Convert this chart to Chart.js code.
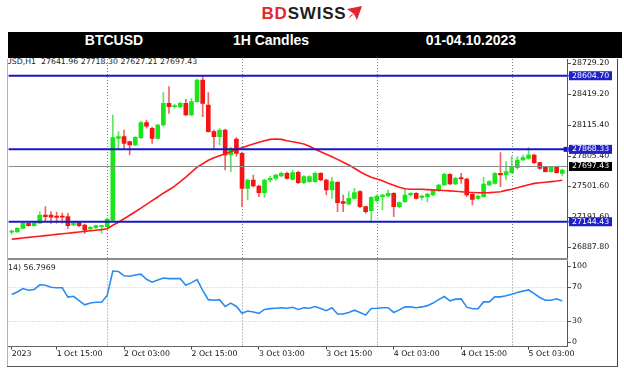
<!DOCTYPE html>
<html>
<head>
<meta charset="utf-8">
<script src="https://cdn.jsdelivr.net/npm/chart.js@4.4.1/dist/chart.umd.min.js"></script>
<style>
  html, body { margin: 0; padding: 0; background: #fff; }
  body { width: 624px; height: 371px; position: relative; overflow: hidden; font-family: "DejaVu Sans", sans-serif; }
  .abs { position: absolute; }
  #logo { left: 0; top: 4px; width: 624px; height: 20px; display: flex; justify-content: center; align-items: flex-start; }
  #logo span { font: bold 17px "Liberation Sans", Arial, sans-serif; letter-spacing: 0.8px; line-height: 19px; }
  #bar { left: 8px; top: 32px; width: 614px; height: 26px; background: #000; z-index: 5; }
  .ht { position: absolute; top: 0; line-height: 27px; color: #fff; font: bold 14px "Liberation Sans", Arial, sans-serif; transform: translateX(-50%); white-space: nowrap; }
  .clip { overflow: hidden; white-space: nowrap; font-size: 7.8px; color: #222; }
  canvas { position: absolute; left: 0; }
</style>
</head>
<body>
<div id="logo" class="abs"><span><span style="color:#e3262d">BD</span><span style="color:#1d1d1b">SWISS</span></span>
  <svg width="16" height="15" viewBox="0 0 16 15" style="margin-top:2px"><polygon points="1,3 16,0 11,14 8,8" fill="#e3262d"/><polygon points="8,8 2,13 5,9" fill="#e3262d"/></svg></div>
<div id="bar" class="abs">
  <div class="ht" style="left:106px">BTCUSD</div>
  <div class="ht" style="left:263px">1H Candles</div>
  <div class="ht" style="left:463px">01-04.10.2023</div>
</div>
<div class="abs clip" style="left:8px;top:57px;width:300px;line-height:10px"><span style="margin-left:-17px">BTCUSD,H1&nbsp;&nbsp;27641.96 27718.30 27627.21 27697.43</span></div>
<canvas id="main" width="624" height="200" style="top:59px"></canvas>
<canvas id="rsi" width="624" height="112" style="top:259px"></canvas>
<div class="abs clip" style="left:8px;top:263px;width:120px;line-height:10px"><span style="margin-left:-15.7px">RSI(14) 56.7969</span></div>
<div class="abs" style="left:8px;top:257.5px;width:560px;height:2.5px;background:#8c8c8c"></div>
<div class="abs" style="left:7px;top:59px;width:1px;height:308px;background:#b4b4b4"></div>
<div class="abs" style="left:7px;top:366px;width:611px;height:1px;background:#555"></div>
<div class="abs" style="left:617px;top:59px;width:1px;height:308px;background:#444"></div>
<script>
// hourly bars, 1 Oct 07:00 .. 5 Oct 09:00 (bar index)
const opens = [27040,27045,27079,27129,27105,27130,27212,27210,27202,27200,
  27195,27112,27139,27112,27072,27085,27095,27095,27160,27979,
  27995,27945,27912,27985,28135,28079,27979,28112,28329,28295,
  28295,28329,28212,28345,28562,28312,28045,27995,28062,27812,
  27972,27829,27479,27562,27502,27435,27562,27579,27602,27629,
  27569,27639,27535,27545,27545,27629,27562,27462,27539,27345,
  27322,27379,27445,27295,27255,27355,27395,27402,27429,27295,
  27345,27412,27429,27389,27395,27412,27455,27512,27619,27522,
  27585,27572,27419,27379,27395,27512,27529,27629,27612,27635,
  27685,27762,27779,27812,27735,27689,27645,27689,27629];
const highs = [27060,27085,27135,27135,27145,27245,27295,27245,27240,27230,
  27229,27145,27145,27120,27095,27112,27112,27180,28212,28045,
  28062,27950,27995,28150,28160,28090,28120,28435,28495,28320,
  28340,28369,28379,28570,28605,28435,28060,28075,28070,27890,
  27985,27840,27570,27610,27510,27570,27600,27620,27640,27640,
  27662,27650,27605,27605,27640,27635,27570,27589,27545,27412,
  27445,27479,27455,27300,27395,27410,27420,27462,27435,27340,
  27479,27435,27435,27410,27430,27465,27520,27630,27625,27590,
  27629,27580,27425,27410,27589,27555,27635,27835,27745,27795,
  27795,27812,27885,27820,27740,27695,27695,27695,27670];
const lows = [27020,27035,27075,27100,27100,27125,27145,27129,27130,27130,
  27079,27105,27095,27029,27060,27075,27029,27090,27150,27879,
  27879,27812,27905,27975,28080,27929,27970,28100,28229,28280,
  28285,28205,28205,28340,28195,28040,27879,27912,27662,27645,
  27800,27295,27362,27490,27395,27389,27540,27560,27590,27570,
  27560,27525,27525,27540,27540,27555,27412,27379,27245,27245,
  27312,27370,27285,27230,27135,27340,27262,27395,27195,27285,
  27335,27400,27370,27360,27345,27405,27445,27505,27515,27515,
  27529,27395,27312,27369,27390,27505,27520,27495,27562,27630,
  27670,27755,27770,27725,27670,27640,27640,27630,27602];
const closes = [27050,27079,27129,27105,27135,27212,27195,27190,27189,27190,
  27105,27139,27105,27062,27089,27105,27105,27172,27985,27995,
  27929,27912,27989,28135,28100,27979,28112,28329,28295,28302,
  28329,28212,28345,28562,28329,28045,27995,28062,27812,27879,
  27829,27479,27562,27502,27435,27562,27579,27612,27629,27579,
  27635,27535,27595,27595,27629,27562,27462,27545,27335,27329,
  27379,27435,27295,27245,27389,27402,27412,27429,27295,27335,
  27412,27429,27379,27402,27422,27455,27512,27619,27522,27579,
  27572,27412,27369,27402,27522,27545,27629,27612,27645,27689,
  27762,27785,27812,27735,27679,27645,27689,27635,27660];
const maValues = [26970,26976,26982,26988,26994,27000,27006,27012,27018,27024,
  27030,27036,27042,27048,27054,27060,27066,27075,27110,27140,
  27175,27210,27245,27280,27318,27355,27392,27430,27465,27500,
  27545,27590,27640,27690,27725,27760,27785,27805,27825,27845,
  27870,27885,27905,27922,27940,27955,27968,27972,27968,27955,
  27945,27935,27922,27900,27870,27845,27820,27795,27768,27740,
  27712,27680,27645,27615,27590,27572,27555,27530,27510,27490,
  27475,27470,27469,27469,27466,27463,27460,27457,27453,27449,
  27445,27440,27437,27435,27435,27436,27440,27445,27458,27470,
  27485,27500,27515,27528,27535,27540,27546,27552,27560];
const rsiValues = [61,64,68,66,67,72.5,72,69.5,69,69,
  58,59,54,49,51,52,52,60,88.6,88,
  83,82.5,84,85,79,75.5,78,80.5,79.7,79.7,
  79.7,72,75,78.5,66,55,54.4,55,47,51,
  47,39,41.6,40.5,39,43.5,44.5,45,45.5,45,
  46,43.5,45.5,45,47,44.5,42,45.5,38.1,38.1,
  40,42.7,40,37,44.7,45,45.5,45.5,40,43,
  46.7,46.5,45.5,46.5,48,51,55,58.7,53.6,55.6,
  55.9,46.2,44.3,44.3,52.4,52.4,58.3,58.3,59.5,61.4,
  63.5,65,66.4,62,57.6,54.4,54.4,56,53.5];

const levelLines = [28604.70, 27868.33, 27144.43];
const lastPrice = 27697.43;
const priceTicks = [28729.20, 28419.20, 28115.40, 27805.40, 27501.60, 27191.60, 26887.80];
const rsiTicks = [100, 70, 30, 0];
const rsiLevels = [70, 30];
const gridBars = [17, 41, 65, 89];
const tickBars = [0, 8, 20, 32, 44, 56, 68, 80, 92];
const tickLabels = ['2023', '1 Oct 15:00', '2 Oct 03:00', '2 Oct 15:00', '3 Oct 03:00',
  '3 Oct 15:00', '4 Oct 03:00', '4 Oct 15:00', '5 Oct 03:00'];

const UP = '#19e619', DOWN = '#f51414';
const UP_WICK = '#5ee65e', DOWN_WICK = '#f26262';
const FONT = '7.8px "DejaVu Sans"';

const bodies = opens.map((o, i) => ({ x: i, y: [o, closes[i]] }));
const wicks = opens.map((o, i) => ({ x: i, y: [lows[i], highs[i]] }));
const bodyColors = opens.map((o, i) => closes[i] >= o ? UP : DOWN);
const wickColors = opens.map((o, i) => closes[i] >= o ? UP_WICK : DOWN_WICK);
const maPoints = maValues.map((v, i) => ({ x: i, y: v }));
const rsiPoints = rsiValues.map((v, i) => ({ x: i, y: v }));

const xRange = { type: 'linear', min: -0.55, max: 98.95, offset: false, bounds: 'data' };

function dottedVerticals(chart) {
  const { ctx, chartArea: a, scales: { x } } = chart;
  ctx.save();
  ctx.strokeStyle = '#808080';
  ctx.lineWidth = 1;
  ctx.setLineDash([1, 2]);
  gridBars.forEach(b => {
    const px = Math.round(x.getPixelForValue(b)) + 0.5;
    ctx.beginPath(); ctx.moveTo(px, a.top); ctx.lineTo(px, a.bottom); ctx.stroke();
  });
  ctx.restore();
}

const mainDecor = {
  id: 'mainDecor',
  beforeDatasetsDraw(chart) { dottedVerticals(chart); },
  afterDatasetsDraw(chart) {
    const { ctx, chartArea: a, scales: { y } } = chart;
    ctx.save();
    const cy = Math.round(y.getPixelForValue(lastPrice)) + 0.5;
    ctx.strokeStyle = '#8c8c8c'; ctx.lineWidth = 1;
    ctx.beginPath(); ctx.moveTo(a.left, cy); ctx.lineTo(a.right, cy); ctx.stroke();
    ctx.strokeStyle = '#1717c4'; ctx.lineWidth = 2;
    levelLines.forEach(v => {
      const py = y.getPixelForValue(v);
      ctx.beginPath(); ctx.moveTo(a.left, py); ctx.lineTo(a.right + 1, py); ctx.stroke();
    });
    ctx.fillStyle = '#1717c4';
    ctx.fillRect(a.right - 4, y.getPixelForValue(levelLines[1]) - 2.5, 5, 5);
    ctx.restore();
  },
  afterDraw(chart) {
    const { ctx, chartArea: a, scales: { y } } = chart;
    const ax = 568;
    ctx.save();
    ctx.strokeStyle = '#555'; ctx.lineWidth = 1;
    ctx.beginPath(); ctx.moveTo(ax - 0.5, a.top); ctx.lineTo(ax - 0.5, a.bottom); ctx.stroke();
    ctx.font = FONT; ctx.textBaseline = 'middle'; ctx.textAlign = 'left';
    ctx.fillStyle = '#111';
    priceTicks.forEach(v => {
      const py = y.getPixelForValue(v);
      ctx.beginPath(); ctx.moveTo(ax, Math.round(py) + 0.5); ctx.lineTo(ax + 3, Math.round(py) + 0.5); ctx.stroke();
      ctx.fillText(v.toFixed(2), ax + 4, py);
    });
    const box = (v, col) => {
      const py = y.getPixelForValue(v);
      ctx.fillStyle = col;
      ctx.fillRect(ax + 1, py - 4.5, 43, 9);
      ctx.fillStyle = '#fff';
      ctx.fillText(v.toFixed(2), ax + 4, py);
    };
    levelLines.forEach(v => box(v, '#2020c8'));
    box(lastPrice, '#000');
    ctx.restore();
  }
};

new Chart(document.getElementById('main'), {
  type: 'bar',
  data: {
    datasets: [
      { type: 'line', data: maPoints, borderColor: '#ff1a1a', borderWidth: 1.6, pointRadius: 0, tension: 0, order: 0 },
      { data: bodies, backgroundColor: bodyColors, barThickness: 4, grouped: false, minBarLength: 1, order: 1 },
      { data: wicks, backgroundColor: wickColors, barThickness: 1, grouped: false, order: 2 }
    ]
  },
  options: {
    animation: false, responsive: false, events: [], devicePixelRatio: 1,
    layout: { padding: { left: 8.6, right: 56.4, top: 0, bottom: 1 } },
    plugins: { legend: { display: false }, tooltip: { enabled: false } },
    scales: {
      x: Object.assign({ display: false }, xRange),
      y: { min: 26782, max: 28772, display: false }
    }
  },
  plugins: [mainDecor]
});

const rsiDecor = {
  id: 'rsiDecor',
  beforeDatasetsDraw(chart) {
    dottedVerticals(chart);
    const { ctx, chartArea: a, scales: { y } } = chart;
    ctx.save();
    ctx.strokeStyle = '#c4c4c4'; ctx.lineWidth = 1; ctx.setLineDash([1, 2]);
    rsiLevels.forEach(v => {
      const py = Math.round(y.getPixelForValue(v)) + 0.5;
      ctx.beginPath(); ctx.moveTo(a.left, py); ctx.lineTo(a.right, py); ctx.stroke();
    });
    ctx.restore();
  },
  afterDraw(chart) {
    const { ctx, chartArea: a, scales: { y } } = chart;
    const ax = 568;
    ctx.save();
    ctx.strokeStyle = '#555'; ctx.lineWidth = 1;
    ctx.beginPath(); ctx.moveTo(ax - 0.5, a.top); ctx.lineTo(ax - 0.5, a.bottom); ctx.stroke();
    ctx.font = FONT; ctx.textBaseline = 'middle'; ctx.textAlign = 'left'; ctx.fillStyle = '#111';
    rsiTicks.forEach(v => {
      let py = y.getPixelForValue(v);
      py = Math.min(Math.max(py, a.top + 5.5), a.bottom - 5);
      ctx.beginPath(); ctx.moveTo(ax, Math.round(py) + 0.5); ctx.lineTo(ax + 3, Math.round(py) + 0.5); ctx.stroke();
      ctx.fillText(String(v), ax + 4, py);
    });
    ctx.restore();
  }
};

new Chart(document.getElementById('rsi'), {
  type: 'line',
  data: {
    datasets: [{ data: rsiPoints, borderColor: '#2a8cf0', borderWidth: 1.6, pointRadius: 0, tension: 0 }]
  },
  options: {
    animation: false, responsive: false, events: [], devicePixelRatio: 1,
    layout: { padding: { left: 8.6, right: 56.4, top: 1.5, bottom: 0 } },
    plugins: { legend: { display: false }, tooltip: { enabled: false } },
    scales: {
      x: Object.assign({
        afterBuildTicks: s => { s.ticks = tickBars.map(v => ({ value: v })); },
        afterFit: s => { s.height = 24.5; },
        ticks: {
          callback: (v, i) => tickLabels[i], autoSkip: false, maxRotation: 0, minRotation: 0,
          align: 'start', padding: 0, color: '#111', font: { family: 'DejaVu Sans', size: 7.8 }
        },
        grid: { drawOnChartArea: false, drawTicks: true, tickLength: 3, color: '#444' },
        border: { display: true, color: '#666', width: 1 }
      }, xRange),
      y: { min: 0, max: 101, display: false }
    }
  },
  plugins: [rsiDecor]
});
</script>
</body>
</html>
